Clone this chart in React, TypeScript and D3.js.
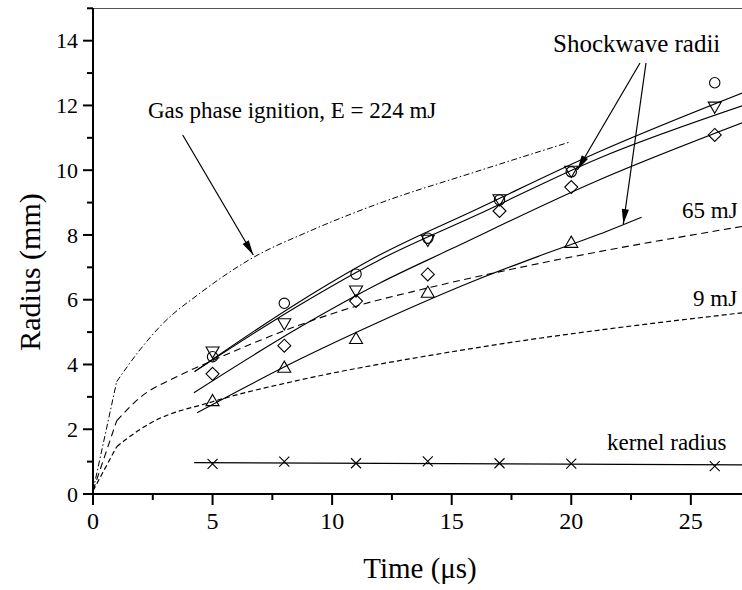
import React, { useEffect, useRef } from "react";
import * as d3 from "d3";

// ---- data ----
const markerTimes = [5, 8, 11, 14, 17, 20, 26];
const circleRadii = [4.24, 5.89, 6.79, 7.9, 9.08, 9.95, 12.7];
const downTriRadii = [4.4, 5.27, 6.28, 7.85, 9.1, 9.98, 11.96];
const diamondRadii = [3.71, 4.58, 5.96, 6.78, 8.74, 9.48, 11.09];
const upTriTimes = [5, 8, 11, 14, 20];
const upTriRadii = [2.87, 3.9, 4.79, 6.22, 7.76];
const kernelRadii = [0.93, 1.0, 0.95, 1.01, 0.95, 0.94, 0.86];

const fitCircleT = [4.25, 8.64, 11.98, 16, 21.16, 27.2];
const fitCircleR = [3.78, 5.94, 7.38, 8.78, 10.57, 12.4];
const fitDownTriT = [4.25, 8.64, 11.98, 16, 21.16, 27.2];
const fitDownTriR = [3.78, 5.84, 7.23, 8.6, 10.37, 12.0];
const fitDiamondT = [4.22, 8.64, 11.98, 14.9, 21.16, 27.2];
const fitDiamondR = [3.13, 5.15, 6.51, 7.54, 9.7, 11.48];
const fitUpTriT = [4.35, 8.64, 11.98, 16, 18.66, 21.16, 22.94];
const fitUpTriR = [2.51, 4.16, 5.32, 6.6, 7.35, 8.02, 8.55];
const kernelLineT = [4.23, 27.2];
const kernelLineR = [0.97, 0.9];

const gasT = [0, 0.99, 1.96, 2.93, 4.47, 6.69, 9, 11.98, 16, 19.98];
const gasR = [0.1, 3.47, 4.45, 5.27, 6.2, 7.3, 8.1, 8.98, 9.95, 10.88];
const mj65T = [0, 0.99, 2, 3.5, 5, 8.64, 11, 13.93, 18.66, 27.2];
const mj65R = [0.1, 2.26, 3.0, 3.62, 4.12, 5.22, 5.8, 6.35, 7.12, 8.27];
const mj9T = [0, 0.99, 1.4, 2.38, 5, 8.64, 11.98, 13.93, 18.66, 21.16, 27.2];
const mj9R = [0.1, 1.46, 1.7, 2.18, 2.85, 3.52, 4.01, 4.26, 4.81, 5.06, 5.6];

const xTicks = [0, 5, 10, 15, 20, 25];
const xMinor = [2.5, 7.5, 12.5, 17.5, 22.5];
const yTicks = [0, 2, 4, 6, 8, 10, 12, 14];
const yMinor = [1, 3, 5, 7, 9, 11, 13, 15];

const xLabel = "Time (\u03bcs)";
const yLabel = "Radius (mm)";

const W = 742;
const H = 590;
const FONT = "'Liberation Serif', 'Times New Roman', serif";

export default function App() {
  const ref = useRef<SVGSVGElement>(null);

  useEffect(() => {
    const svg = d3.select(ref.current);
    svg.selectAll("*").remove();

    const x = d3.scaleLinear().domain([0, 27.14]).range([93, 742]);
    const y = d3.scaleLinear().domain([0, 15]).range([494, 8.3]);

    const defs = svg.append("defs");
    defs
      .append("clipPath")
      .attr("id", "plotclip")
      .append("rect")
      .attr("x", 93)
      .attr("y", 8)
      .attr("width", 742 - 93)
      .attr("height", 494 - 8);
    defs
      .append("marker")
      .attr("id", "arrow")
      .attr("markerUnits", "userSpaceOnUse")
      .attr("viewBox", "-16 -6 18 12")
      .attr("refX", 0)
      .attr("refY", 0)
      .attr("markerWidth", 18)
      .attr("markerHeight", 12)
      .attr("orient", "auto")
      .append("path")
      .attr("d", "M0,0 L-15,-3.6 L-15,3.6 Z")
      .attr("fill", "#000");

    const plot = svg.append("g").attr("clip-path", "url(#plotclip)");

    const toPts = (ts: number[], rs: number[]) => ts.map((t, i) => [t, rs[i]] as [number, number]);

    const lineLin = d3
      .line<[number, number]>()
      .x((d) => x(d[0]))
      .y((d) => y(d[1]));
    const lineSmooth = d3
      .line<[number, number]>()
      .x((d) => x(d[0]))
      .y((d) => y(d[1]))
      .curve(d3.curveMonotoneX);

    // model curves: straight first segment, smooth after the knee
    const drawModel = (ts: number[], rs: number[], dash: string, sw: number) => {
      const pts = toPts(ts, rs);
      plot
        .append("path")
        .attr("d", lineLin(pts.slice(0, 2)))
        .attr("fill", "none")
        .attr("stroke", "#000")
        .attr("stroke-width", sw)
        .attr("stroke-dasharray", dash);
      plot
        .append("path")
        .attr("d", lineSmooth(pts.slice(1)))
        .attr("fill", "none")
        .attr("stroke", "#000")
        .attr("stroke-width", sw)
        .attr("stroke-dasharray", dash);
    };
    drawModel(gasT, gasR, "6,2.5,1.5,2.5", 1);
    drawModel(mj65T, mj65R, "7,4.5", 1.1);
    drawModel(mj9T, mj9R, "5,3", 1.2);

    const fits: [number[], number[]][] = [
      [fitCircleT, fitCircleR],
      [fitDownTriT, fitDownTriR],
      [fitDiamondT, fitDiamondR],
      [fitUpTriT, fitUpTriR],
      [kernelLineT, kernelLineR],
    ];
    fits.forEach(([ts, rs]) => {
      plot
        .append("path")
        .attr("d", lineSmooth(toPts(ts, rs)))
        .attr("fill", "none")
        .attr("stroke", "#000")
        .attr("stroke-width", 1.15);
    });

    // markers
    const mk = plot.append("g").attr("fill", "none").attr("stroke", "#000").attr("stroke-width", 1.1);
    markerTimes.forEach((t, i) => {
      mk.append("circle").attr("cx", x(t)).attr("cy", y(circleRadii[i])).attr("r", 5.2);
    });
    const tri = (cx: number, cy: number, up: boolean) => {
      const s = 6.5;
      const h = 5.6;
      return up
        ? `M${cx},${cy - h - 1} L${cx + s},${cy + h - 1} L${cx - s},${cy + h - 1} Z`
        : `M${cx},${cy + h + 1} L${cx + s},${cy - h + 1} L${cx - s},${cy - h + 1} Z`;
    };
    markerTimes.forEach((t, i) => {
      mk.append("path").attr("d", tri(x(t), y(downTriRadii[i]), false));
    });
    markerTimes.forEach((t, i) => {
      const cx = x(t);
      const cy = y(diamondRadii[i]);
      const s = 6.5;
      mk.append("path").attr("d", `M${cx},${cy - s} L${cx + s},${cy} L${cx},${cy + s} L${cx - s},${cy} Z`);
    });
    upTriTimes.forEach((t, i) => {
      mk.append("path").attr("d", tri(x(t), y(upTriRadii[i]), true));
    });
    markerTimes.forEach((t, i) => {
      const cx = x(t);
      const cy = y(kernelRadii[i]);
      const s = 5;
      mk.append("path").attr("d", `M${cx - s},${cy - s} L${cx + s},${cy + s} M${cx - s},${cy + s} L${cx + s},${cy - s}`);
    });

    // top frame line
    svg
      .append("line")
      .attr("x1", 93)
      .attr("x2", 742)
      .attr("y1", 8.5)
      .attr("y2", 8.5)
      .attr("stroke", "#555")
      .attr("stroke-width", 1);

    // axes
    const ax = svg.append("g").attr("stroke", "#000");
    ax.append("line").attr("x1", 93).attr("x2", 93).attr("y1", 8).attr("y2", 495).attr("stroke-width", 2);
    ax.append("line").attr("x1", 92).attr("x2", 742).attr("y1", 494).attr("y2", 494).attr("stroke-width", 2);
    yTicks.forEach((v) => {
      ax.append("line").attr("x1", 83).attr("x2", 93).attr("y1", y(v)).attr("y2", y(v)).attr("stroke-width", 2);
    });
    yMinor.forEach((v) => {
      ax.append("line").attr("x1", 87).attr("x2", 93).attr("y1", y(v)).attr("y2", y(v)).attr("stroke-width", 2);
    });
    xTicks.forEach((v) => {
      ax.append("line").attr("x1", x(v)).attr("x2", x(v)).attr("y1", 494).attr("y2", 505).attr("stroke-width", 2);
    });
    xMinor.forEach((v) => {
      ax.append("line").attr("x1", x(v)).attr("x2", x(v)).attr("y1", 494).attr("y2", 500).attr("stroke-width", 2);
    });

    const txt = svg.append("g").attr("font-family", FONT).attr("fill", "#000");
    yTicks.forEach((v) => {
      txt
        .append("text")
        .attr("x", 78)
        .attr("y", y(v))
        .attr("dy", "0.35em")
        .attr("text-anchor", "end")
        .attr("font-size", 22)
        .text(String(v));
    });
    xTicks.forEach((v) => {
      txt
        .append("text")
        .attr("x", x(v))
        .attr("y", 529)
        .attr("text-anchor", "middle")
        .attr("font-size", 24)
        .text(String(v));
    });
    txt
      .append("text")
      .attr("x", 420)
      .attr("y", 578)
      .attr("text-anchor", "middle")
      .attr("font-size", 29)
      .text(xLabel);
    txt
      .append("text")
      .attr("transform", "translate(40,272) rotate(-90)")
      .attr("text-anchor", "middle")
      .attr("font-size", 30)
      .text(yLabel);

    // annotations
    txt.append("text").attr("x", 148).attr("y", 118).attr("font-size", 23).text("Gas phase ignition, E = 224 mJ");
    txt.append("text").attr("x", 553).attr("y", 52).attr("font-size", 25).text("Shockwave radii");
    txt.append("text").attr("x", 682).attr("y", 218).attr("font-size", 23).text("65 mJ");
    txt.append("text").attr("x", 693).attr("y", 306).attr("font-size", 23).text("9 mJ");
    txt.append("text").attr("x", 607).attr("y", 450).attr("font-size", 23).text("kernel radius");

    const arrows = [
      [182.7, 135, 253.3, 255],
      [640, 63, 577.3, 170],
      [646, 63, 623.3, 224],
    ];
    arrows.forEach(([x1, y1, x2, y2]) => {
      svg
        .append("line")
        .attr("x1", x1)
        .attr("y1", y1)
        .attr("x2", x2)
        .attr("y2", y2)
        .attr("stroke", "#000")
        .attr("stroke-width", 1.2)
        .attr("marker-end", "url(#arrow)");
    });
  }, []);

  return (
    <div style={{ position: "absolute", left: 0, top: 0, width: W, height: H, background: "#fff" }}>
      <svg ref={ref} width={W} height={H} style={{ display: "block" }} />
    </div>
  );
}
